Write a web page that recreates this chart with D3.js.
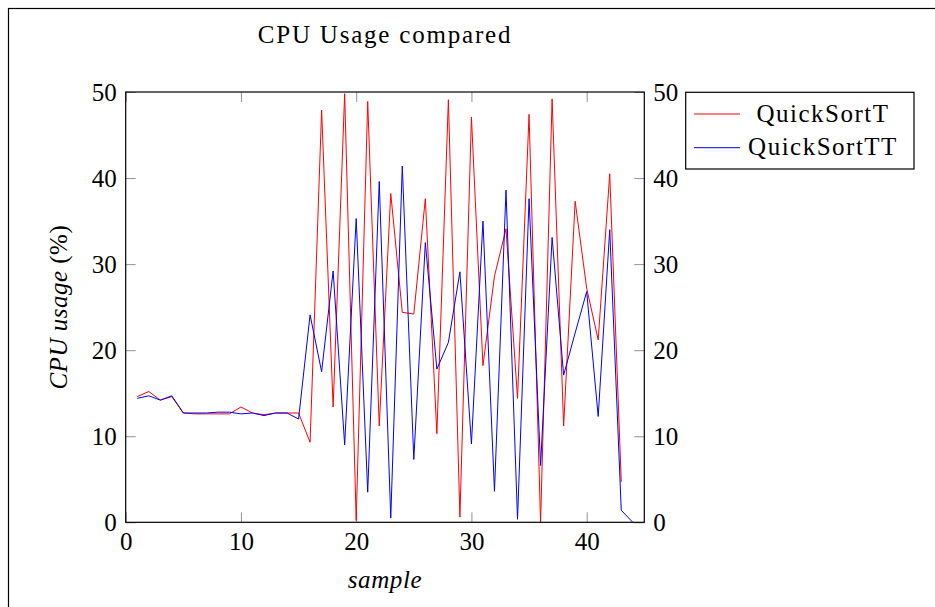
<!DOCTYPE html>
<html lang="en">
<head>
  <meta charset="UTF-8">
  <title>CPU Usage compared</title>
  <script src="https://d3js.org/d3.v7.min.js"></script>
  <style>
    body {
      margin: 0;
      background: #fff;
      font-family: "Liberation Serif", "DejaVu Serif", serif;
    }
    .tick text {
      font-family: "Liberation Serif", serif;
    }
  </style>
</head>
<body>
  <div id="chart"></div>

  <script>
    const samples = d3.range(1, 45);
    const quickSortT = [14.6, 15.2, 14.2, 14.6, 12.7, 12.6, 12.6, 12.6, 12.6, 13.4,
                        12.7, 12.5, 12.7, 12.7, 12.7, 9.3, 47.9, 13.4, 49.8, 0.2,
                        48.9, 11.2, 38.2, 24.4, 24.2, 37.6, 10.3, 49.1, 0.6, 47.1,
                        18.2, 28.6, 34.1, 14.4, 47.4, 0.0, 49.2, 11.2, 37.3, 27.2,
                        21.2, 40.5, 4.7];
    const quickSortTT = [14.4, 14.7, 14.2, 14.7, 12.7, 12.7, 12.7, 12.8, 12.8, 12.6,
                         12.7, 12.4, 12.7, 12.7, 12.0, 24.1, 17.5, 29.2, 9.0, 35.3,
                         3.5, 39.6, 0.5, 41.4, 7.3, 32.5, 17.8, 20.9, 29.1, 9.1,
                         35.0, 3.6, 38.6, 0.35, 37.6, 6.6, 33.1, 17.1, 22.0, 26.8,
                         12.3, 34.0, 1.4, 0.0];
    const xTicks = [0, 10, 20, 30, 40];
    const yTicks = [0, 10, 20, 30, 40, 50];

    const W = 935, H = 607;
    const plot = {left: 125.7, top: 92, right: 644.3, bottom: 522.3};

    const svg = d3.select("#chart")
                  .append("svg")
                  .attr("width", W)
                  .attr("height", H);

    // outer frame (only top/left show inside the window)
    svg.append("rect")
       .attr("x", 8.5).attr("y", 8.5)
       .attr("width", 1000).attr("height", 1000)
       .attr("fill", "none").attr("stroke", "#000").attr("stroke-width", 1.2);

    const x = d3.scaleLinear().domain([0, 45]).range([plot.left, plot.right]);
    const y = d3.scaleLinear().domain([0, 50]).range([plot.bottom, plot.top]);

    const tickLen = 10;
    const fontSize = 25;

    // bottom axis, ticks inward
    const gx = svg.append("g")
       .attr("transform", `translate(0,${plot.bottom})`)
       .call(d3.axisBottom(x).tickValues(xTicks).tickSizeInner(-tickLen).tickSizeOuter(0).tickPadding(10));
    // top axis, ticks only
    const gxTop = svg.append("g")
       .attr("transform", `translate(0,${plot.top})`)
       .call(d3.axisTop(x).tickValues(xTicks).tickSizeInner(-tickLen).tickSizeOuter(0).tickFormat(""));
    // left axis
    const gy = svg.append("g")
       .attr("transform", `translate(${plot.left},0)`)
       .call(d3.axisLeft(y).tickValues(yTicks).tickSizeInner(-tickLen).tickSizeOuter(0).tickPadding(9));
    // right axis
    const gyR = svg.append("g")
       .attr("transform", `translate(${plot.right},0)`)
       .call(d3.axisRight(y).tickValues(yTicks).tickSizeInner(-tickLen).tickSizeOuter(0).tickPadding(9));

    [gx, gxTop, gy, gyR].forEach(g => {
      g.select(".domain").remove();
      g.selectAll(".tick line").attr("stroke", "#777").attr("stroke-width", 0.8);
      g.selectAll(".tick text")
       .attr("fill", "#000")
       .style("font-size", fontSize + "px");
    });

    const line = d3.line()
                   .x((d, i) => x(samples[i]))
                   .y(d => y(d));

    svg.append("path")
       .datum(quickSortT)
       .attr("fill", "none")
       .attr("stroke", "#ff0000")
       .attr("stroke-width", 1)
       .attr("d", line);

    svg.append("path")
       .datum(quickSortTT)
       .attr("fill", "none")
       .attr("stroke", "#0000ff")
       .attr("stroke-width", 1)
       .attr("d", line);

    // plot box
    svg.append("rect")
       .attr("x", plot.left).attr("y", plot.top)
       .attr("width", plot.right - plot.left)
       .attr("height", plot.bottom - plot.top)
       .attr("fill", "none").attr("stroke", "#000").attr("stroke-width", 1.2);

    // title
    svg.append("text")
       .attr("x", (plot.left + plot.right) / 2)
       .attr("y", 43)
       .attr("text-anchor", "middle")
       .style("font-size", "25px")
       .style("letter-spacing", "1.8px")
       .text("CPU Usage compared");

    // x label
    svg.append("text")
       .attr("x", (plot.left + plot.right) / 2)
       .attr("y", 588)
       .attr("text-anchor", "middle")
       .style("font-size", "25px")
       .style("font-style", "italic")
       .style("letter-spacing", "0.6px")
       .text("sample");

    // y label
    const yl = svg.append("text")
       .attr("transform", `translate(67,${(plot.top + plot.bottom) / 2}) rotate(-90)`)
       .attr("text-anchor", "middle")
       .style("font-size", "25px")
       .style("letter-spacing", "0.5px");
    yl.append("tspan").style("font-style", "italic").text("CPU usage");
    yl.append("tspan").text(" (%)");

    // legend
    const legend = svg.append("g");
    legend.append("rect")
          .attr("x", 685.7).attr("y", 92.3)
          .attr("width", 228.3).attr("height", 76.7)
          .attr("fill", "#fff").attr("stroke", "#000").attr("stroke-width", 1.2);
    const entries = [
      {name: "QuickSortT", color: "#ff0000", y: 114},
      {name: "QuickSortTT", color: "#0000ff", y: 147.7}
    ];
    entries.forEach(e => {
      legend.append("line")
            .attr("x1", 694).attr("x2", 740)
            .attr("y1", e.y).attr("y2", e.y)
            .attr("stroke", e.color).attr("stroke-width", 1);
      legend.append("text")
            .attr("x", 823)
            .attr("y", e.y + 7.7)
            .attr("text-anchor", "middle")
            .style("font-size", "25px")
            .style("letter-spacing", "1.5px")
            .text(e.name);
    });
  </script>
</body>
</html>
